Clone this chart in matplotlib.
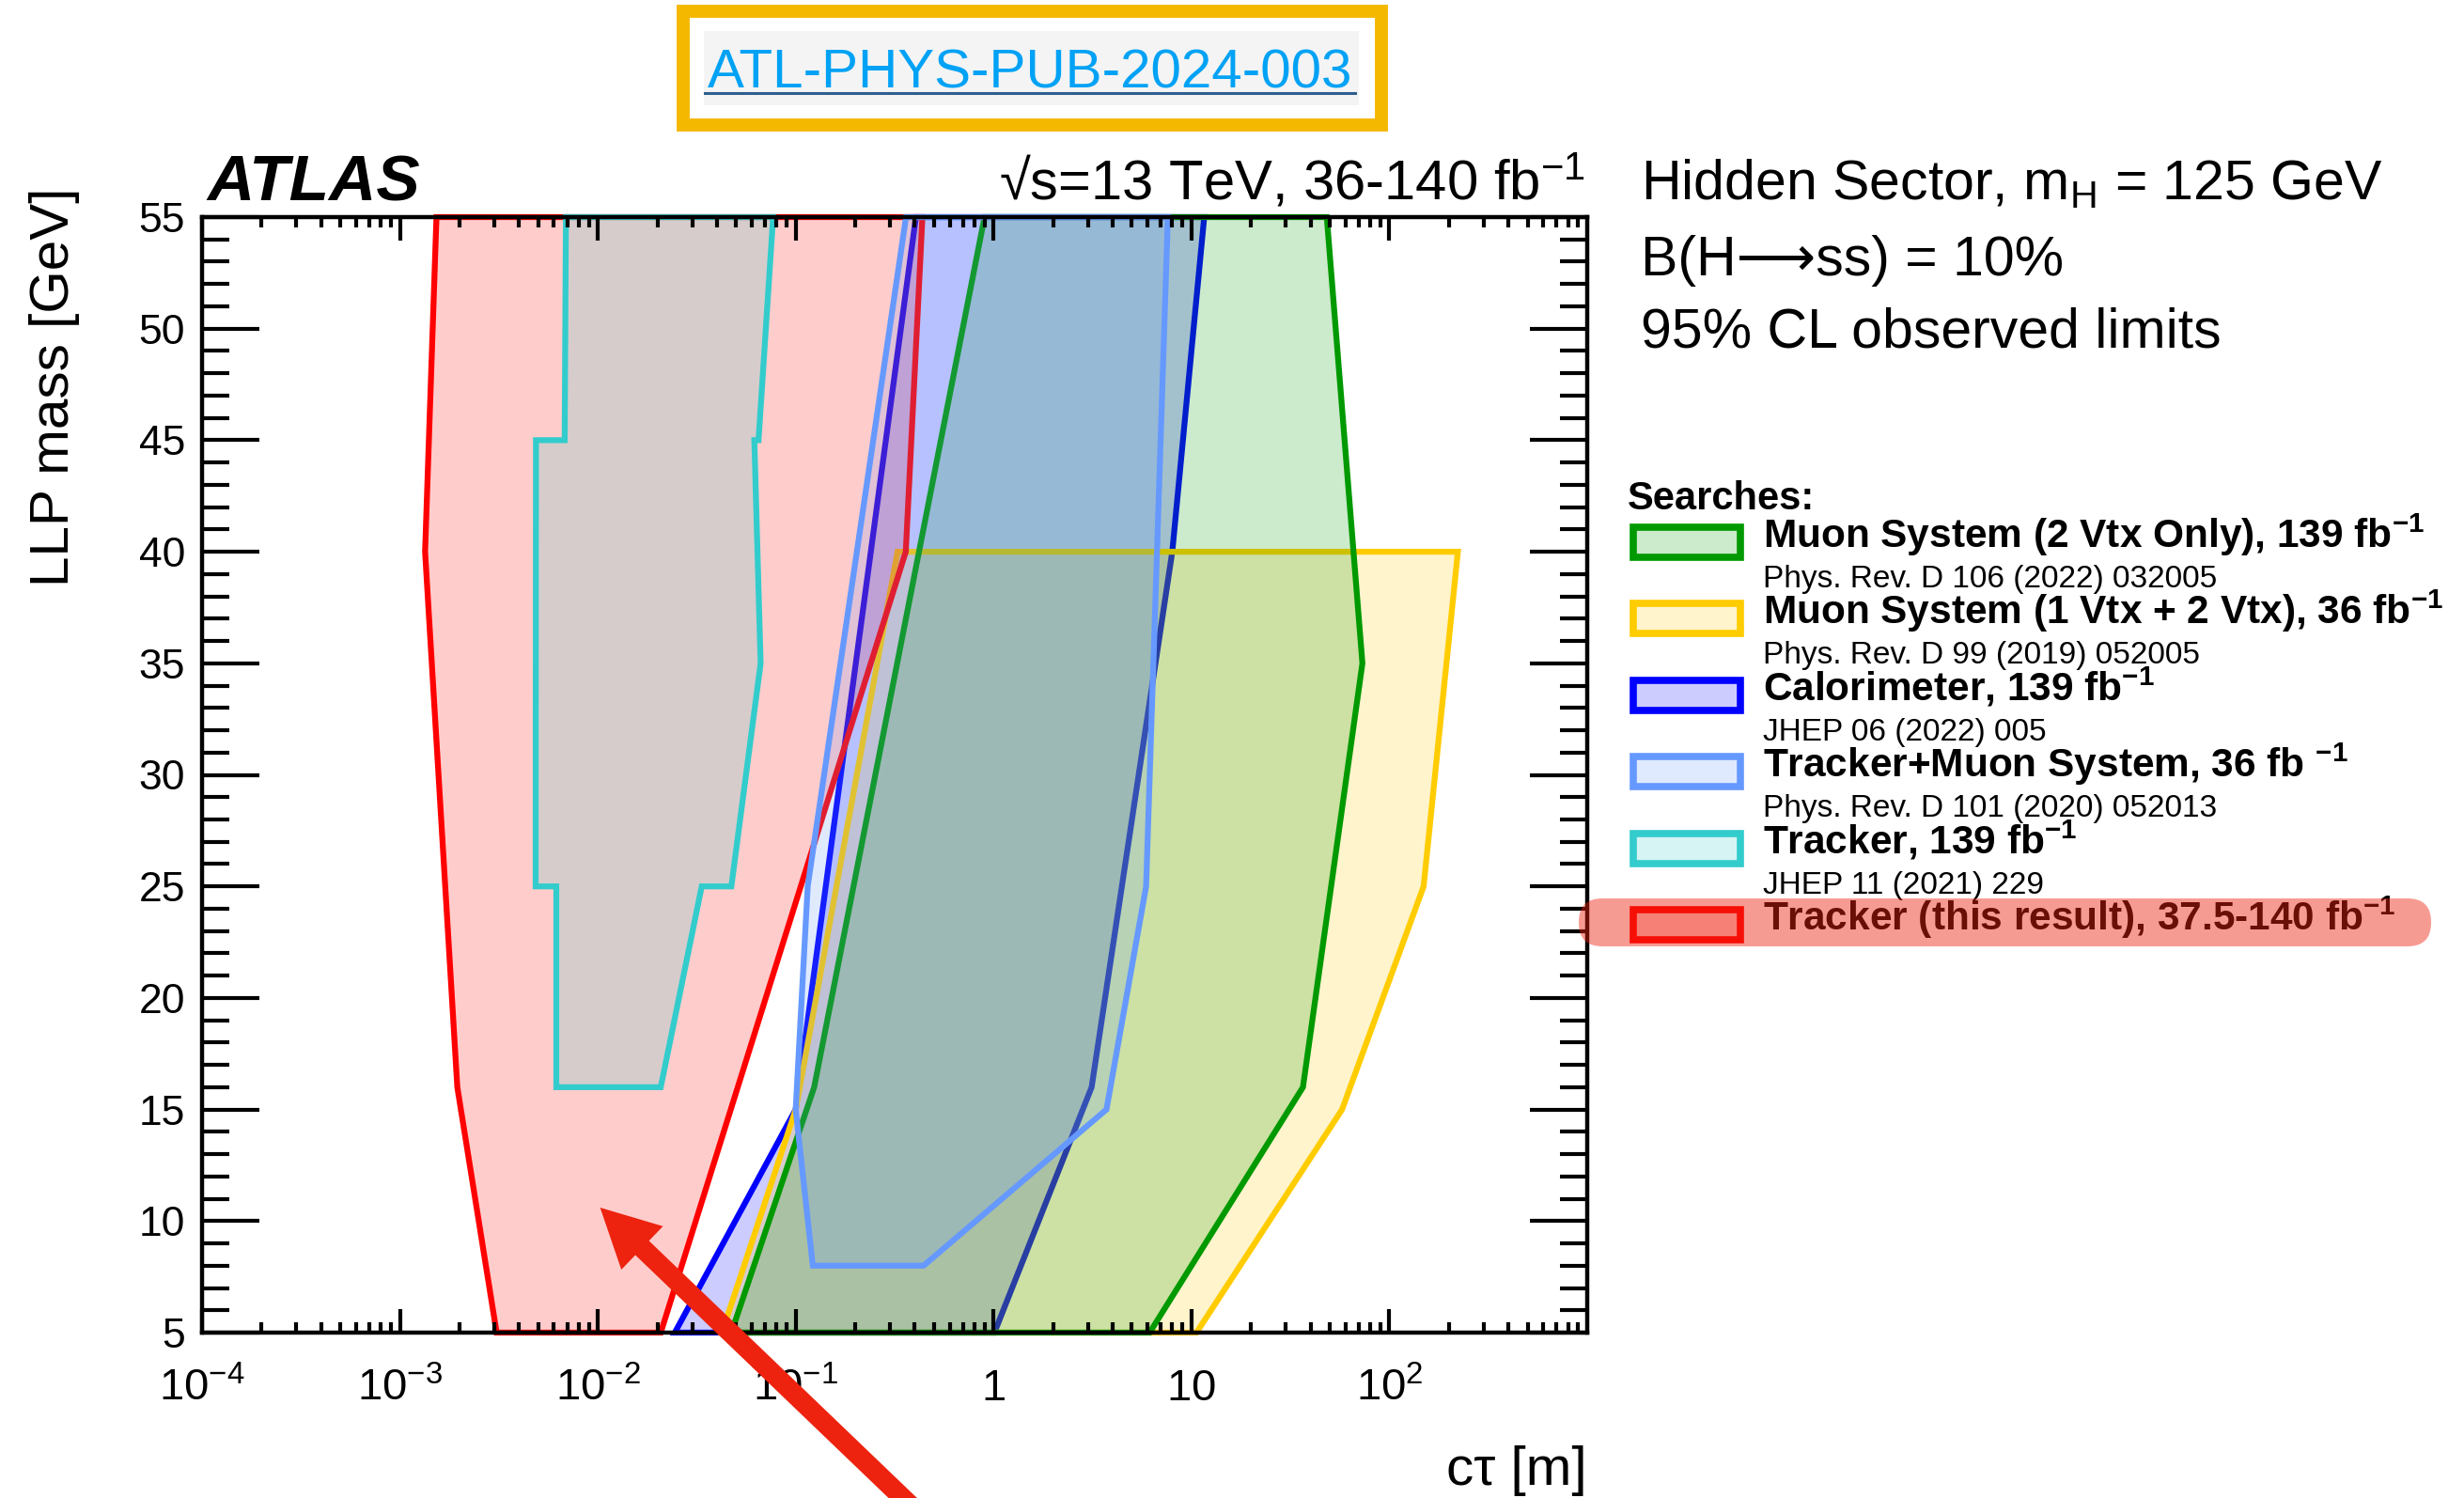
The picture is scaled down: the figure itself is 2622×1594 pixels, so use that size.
import numpy as np
import matplotlib
matplotlib.use('Agg')
import matplotlib.pyplot as plt
from matplotlib.patches import Polygon, Rectangle, FancyBboxPatch, FancyArrow
from matplotlib.lines import Line2D
from matplotlib.ticker import LogLocator, NullFormatter, MultipleLocator

plt.rcParams['font.family'] = ['Liberation Sans', 'DejaVu Sans']
plt.rcParams['mathtext.fontset'] = 'custom'
plt.rcParams['mathtext.rm'] = 'Liberation Sans'
plt.rcParams['mathtext.it'] = 'Liberation Sans:italic'
plt.rcParams['mathtext.bf'] = 'Liberation Sans:bold'

W, H = 2622, 1594

# 95% CL excluded regions, c*tau [m] vs LLP mass [GeV]
calo_ctau = [0.0245, 0.10, 0.405, 11.6, 8.0, 3.13, 1.01]
calo_mass = [5, 15, 55, 55, 40, 16, 5]

muon1_ctau = [0.0424, 0.10, 0.327, 222, 149, 57.7, 10.6]
muon1_mass = [5, 15, 40, 40, 25, 15, 5]

muon2_ctau = [0.0473, 0.124, 0.90, 48.3, 73.1, 36.6, 6.15]
muon2_mass = [5, 16, 55, 55, 35, 16, 5]

new_ctau = [1.53e-3, 1.34e-3, 1.95e-3, 3.08e-3, 0.0208, 0.36, 0.437]
new_mass = [55, 40, 16, 5, 5, 40, 55]

trkmu_ctau = [0.122, 0.10, 0.115, 0.361, 7.6, 5.9, 3.72, 0.443]
trkmu_mass = [8, 15, 25, 55, 55, 25, 15, 8]

trk_ctau = [6.9e-3, 6.8e-3, 4.87e-3, 4.85e-3, 6.17e-3, 6.17e-3, 0.0208,
            0.0335, 0.0473, 0.0665, 0.0618, 0.0649, 0.0769]
trk_mass = [55, 45, 45, 25, 25, 16, 16, 25, 25, 35, 45, 45, 55]

# drawing order matters: later fills sit on top of earlier outlines
regions = [
    (calo_ctau, calo_mass, '#0000ff'),
    (muon1_ctau, muon1_mass, '#ffcc00'),
    (muon2_ctau, muon2_mass, '#009900'),
    (new_ctau, new_mass, '#ff0000'),
    (trkmu_ctau, trkmu_mass, '#6699ff'),
    (trk_ctau, trk_mass, '#33cccc'),
]

legend_labels = [
    r'Muon System (2 Vtx Only), 139 fb$^{\mathbf{-1}}$',
    r'Muon System (1 Vtx + 2 Vtx), 36 fb$^{\mathbf{-1}}$',
    r'Calorimeter, 139 fb$^{\mathbf{-1}}$',
    r'Tracker+Muon System, 36 fb $^{\mathbf{-1}}$',
    r'Tracker, 139 fb$^{\mathbf{-1}}$',
    r'Tracker (this result), 37.5-140 fb$^{\mathbf{-1}}$',
]
legend_refs = [
    'Phys. Rev. D 106 (2022) 032005',
    'Phys. Rev. D 99 (2019) 052005',
    'JHEP 06 (2022) 005',
    'Phys. Rev. D 101 (2020) 052013',
    'JHEP 11 (2021) 229',
    '',
]
legend_colors = ['#009900', '#ffcc00', '#0000ff', '#6699ff', '#33cccc', '#ff0000']

xticks = [1e-4, 1e-3, 1e-2, 1e-1, 1, 10, 100]
xticklabels = [r'$10^{-4}$', r'$10^{-3}$', r'$10^{-2}$', r'$10^{-1}$', r'$1$', r'$10$', r'$10^{2}$']


def fx(x):
    return x / W


def fy(y):
    return 1 - y / H


fig = plt.figure(figsize=(W / 100, H / 100), dpi=100)
ax = fig.add_axes([fx(215), fy(1418), (1689 - 215) / W, (1418 - 231) / H])
ax.set_xscale('log')
ax.set_xlim(1e-4, 1e3)
ax.set_ylim(5, 55)

for ct, m, col in regions:
    fc = matplotlib.colors.to_rgba(col, 0.2)
    ax.add_patch(Polygon(np.column_stack([ct, m]), closed=True, facecolor=fc,
                         edgecolor=col, lw=4.5, joinstyle='miter', clip_on=False, zorder=1))

ax.set_xticks(xticks)
ax.set_xticklabels(xticklabels)
ax.xaxis.set_minor_locator(LogLocator(base=10, subs=np.arange(2, 10), numticks=20))
ax.xaxis.set_minor_formatter(NullFormatter())
ax.yaxis.set_major_locator(MultipleLocator(5))
ax.yaxis.set_minor_locator(MultipleLocator(1))
ax.tick_params(which='both', direction='in', top=True, right=True, width=3)
ax.tick_params(axis='x', which='major', length=18, labelsize=34, pad=52)
ax.tick_params(axis='x', which='minor', length=8)
ax.tick_params(axis='y', which='major', length=44, labelsize=32, pad=13)
ax.tick_params(axis='y', which='minor', length=21)
for t in ax.xaxis.get_major_ticks():
    t.label1.set_va('baseline')
for s in ax.spines.values():
    s.set_linewidth(3.2)

# labels and annotations
fig.text(fx(1689), fy(1580), 'cτ [m]', fontsize=42, ha='right', va='baseline')
fig.text(fx(58), fy(200), 'LLP mass [GeV]', fontsize=42, rotation=90, ha='center', va='top')
fig.text(fx(220), fy(213), 'ATLAS', fontsize=50, fontweight='bold', fontstyle='italic', va='baseline')
fig.text(fx(1687), fy(213), r'√s=13 TeV, 36-140 fb$^{-1}$', fontsize=43,
         ha='right', va='baseline')
fig.text(fx(1746), fy(213), r'Hidden Sector, m$_{\mathrm{H}}$ = 125 GeV', fontsize=42.5, va='baseline')
fig.text(fx(1746), fy(293), 'B(H⟶ss) = 10%', fontsize=42.5, va='baseline')
fig.text(fx(1746), fy(370), '95% CL observed limits', fontsize=42.5, va='baseline')

# legend
fig.text(fx(1732), fy(542), 'Searches:', fontsize=30, fontweight='bold', va='baseline')
for i, (lab, ref, col) in enumerate(zip(legend_labels, legend_refs, legend_colors)):
    yb = 583 + 81.4 * i
    yc = yb - 6
    fig.add_artist(Rectangle((1738 / 100, (H - yc - 16) / 100), 1.14, 0.32,
                             transform=fig.dpi_scale_trans,
                             facecolor=matplotlib.colors.to_rgba(col, 0.2),
                             edgecolor=col, lw=5.5))
    fig.text(fx(1876), fy(yb), lab, fontsize=30.5, fontweight='bold', va='baseline')
    if ref:
        fig.text(fx(1876), fy(yb + 42), ref, fontsize=24, va='baseline')

arrow_col = '#ed230f'
fig.add_artist(FancyBboxPatch((16.80, (H - 1007) / 100), 9.07, 0.51,
                              boxstyle='round,pad=0,rounding_size=0.25',
                              transform=fig.dpi_scale_trans,
                              facecolor=arrow_col, alpha=0.45, edgecolor='none', zorder=5))

tip_x, tip_y = 638.6 / 100, (H - 1285) / 100
tail_x, tail_y = 993 / 100, (H - 1625) / 100
fig.add_artist(FancyArrow(tail_x, tail_y, tip_x - tail_x, tip_y - tail_y,
                          width=0.21, head_width=0.64, head_length=0.62,
                          length_includes_head=True, transform=fig.dpi_scale_trans,
                          facecolor=arrow_col, edgecolor='none', zorder=6))

# document number box
fig.add_artist(Rectangle((7.27, (H - 133) / 100), 14.70 - 7.27, 1.21,
                         transform=fig.dpi_scale_trans, facecolor='white',
                         edgecolor='#f5b800', lw=10))
fig.add_artist(Rectangle((7.485, (H - 112) / 100), 14.46 - 7.485, 0.79,
                         transform=fig.dpi_scale_trans, facecolor='#f4f4f4',
                         edgecolor='none'))
fig.text(fx(1096), fy(94), 'ATL-PHYS-PUB-2024-003', fontsize=42, color='#00a2f5',
         ha='center', va='baseline')
fig.add_artist(Line2D([7.495, 14.42], [(H - 98.5) / 100] * 2, transform=fig.dpi_scale_trans,
                      color='#2f5f8f', lw=2.2))

fig.savefig('out.png', dpi=100)
